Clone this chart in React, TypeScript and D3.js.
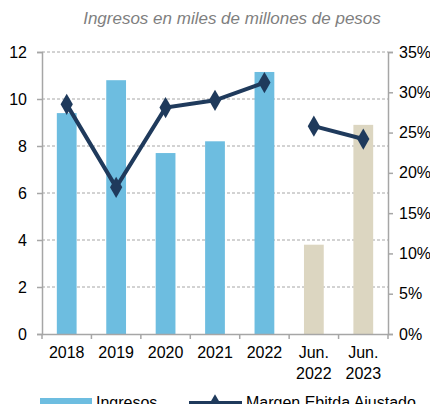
import * as d3 from "d3";
import { useRef, useEffect } from "react";

const categories = ["2018", "2019", "2020", "2021", "2022", "Jun.|2022", "Jun.|2023"];
const ingresos = [9.4, 10.8, 7.7, 8.2, 11.15, 3.8, 8.9];
const margen = [0.285, 0.182, 0.281, 0.29, 0.312, 0.258, 0.242];
const leftTicks = [0, 2, 4, 6, 8, 10, 12];
const rightTicks = [0, 0.05, 0.1, 0.15, 0.2, 0.25, 0.3, 0.35];

const width = 438;
const height = 412;
const margin = { top: 52, right: 50, bottom: 78, left: 42 };

function Chart() {
  const ref = useRef<SVGSVGElement>(null);

  useEffect(() => {
    const svg = d3.select(ref.current);
    svg.selectAll("*").remove();
    const font = "'Liberation Sans', Arial, sans-serif";

    const x = d3
      .scaleBand()
      .domain(categories)
      .range([margin.left, width - margin.right])
      .paddingInner(0.6)
      .paddingOuter(0.3);
    const band = d3.scaleBand().domain(categories).range([margin.left, width - margin.right]);
    const y = d3.scaleLinear().domain([0, 12]).range([height - margin.bottom, margin.top]);
    const y2 = d3.scaleLinear().domain([0, 0.35]).range([height - margin.bottom, margin.top]);

    // title
    svg
      .append("text")
      .attr("x", 232)
      .attr("y", 24)
      .attr("text-anchor", "middle")
      .attr("font-family", font)
      .attr("font-style", "italic")
      .attr("font-size", 17)
      .attr("fill", "#7f7f7f")
      .text("Ingresos en miles de millones de pesos");

    // gridlines
    svg
      .append("g")
      .selectAll("line")
      .data(leftTicks.filter((d) => d > 0))
      .join("line")
      .attr("x1", margin.left)
      .attr("x2", width - margin.right)
      .attr("y1", (d) => y(d))
      .attr("y2", (d) => y(d))
      .attr("stroke", "#a6a6a6")
      .attr("stroke-dasharray", "3,2");

    // bars
    svg
      .append("g")
      .selectAll("rect")
      .data(ingresos)
      .join("rect")
      .attr("x", (d, i) => x(categories[i])!)
      .attr("width", x.bandwidth())
      .attr("y", (d) => y(d))
      .attr("height", (d) => y(0) - y(d))
      .attr("fill", (d, i) => (i < 5 ? "#6dbde0" : "#dcd6c1"));

    // axes
    const left = svg
      .append("g")
      .attr("transform", `translate(${margin.left},0)`)
      .call(d3.axisLeft(y).tickValues(leftTicks).tickSize(5).tickPadding(10));
    const right = svg
      .append("g")
      .attr("transform", `translate(${width - margin.right},0)`)
      .call(d3.axisRight(y2).tickValues(rightTicks).tickSize(5).tickPadding(6).tickFormat(d3.format(".0%")));
    const bottom = svg
      .append("g")
      .attr("transform", `translate(0,${height - margin.bottom})`)
      .call(d3.axisBottom(band).tickSize(0).tickFormat(() => ""));

    [left, right, bottom].forEach((g) => {
      g.select(".domain").attr("stroke", "#a6a6a6").attr("stroke-width", 1.5);
      g.selectAll(".tick line").attr("stroke", "#a6a6a6").attr("stroke-width", 1.5);
      g.selectAll("text").attr("font-family", font).attr("font-size", 16).attr("fill", "#000");
    });

    // bottom ticks at band edges
    const edges = categories.map((c) => band(c)!).concat([band.range()[1]]);
    svg
      .append("g")
      .selectAll("line")
      .data(edges)
      .join("line")
      .attr("x1", (d) => d)
      .attr("x2", (d) => d)
      .attr("y1", y(0))
      .attr("y2", y(0) + 5)
      .attr("stroke", "#a6a6a6")
      .attr("stroke-width", 1.5);

    // category labels
    const labels = svg
      .append("g")
      .selectAll("text")
      .data(categories)
      .join("text")
      .attr("x", (d) => band(d)! + band.bandwidth() / 2)
      .attr("y", y(0) + 24)
      .attr("text-anchor", "middle")
      .attr("font-family", font)
      .attr("font-size", 16);
    labels.each(function (d) {
      const parts = d.split("|");
      d3.select(this)
        .selectAll("tspan")
        .data(parts)
        .join("tspan")
        .attr("x", band(d)! + band.bandwidth() / 2)
        .attr("dy", (p, j) => (j === 0 ? 0 : 21))
        .text((p) => p);
    });

    // line (broken between annual and june)
    const cx = (i: number) => band(categories[i])! + band.bandwidth() / 2;
    const segments = [
      [0, 1, 2, 3, 4],
      [5, 6],
    ];
    segments.forEach((seg) => {
      svg
        .append("path")
        .datum(seg)
        .attr(
          "d",
          d3
            .line<number>()
            .x((i) => cx(i))
            .y((i) => y2(margen[i]))
        )
        .attr("fill", "none")
        .attr("stroke", "#1f3a5c")
        .attr("stroke-width", 4);
    });

    const diamond = d3.symbol().type(d3.symbolDiamond).size(130);
    svg
      .append("g")
      .selectAll("path")
      .data(margen)
      .join("path")
      .attr("transform", (d, i) => `translate(${cx(i)},${y2(d)})`)
      .attr("d", diamond)
      .attr("fill", "#1f3a5c");

    // legend
    const lg = svg.append("g").attr("font-family", font).attr("font-size", 16);
    lg.append("rect").attr("x", 40).attr("y", 398).attr("width", 52).attr("height", 11).attr("fill", "#6dbde0");
    lg.append("text").attr("x", 96).attr("y", 408).text("Ingresos");
    lg.append("line")
      .attr("x1", 189)
      .attr("x2", 242)
      .attr("y1", 403)
      .attr("y2", 403)
      .attr("stroke", "#1f3a5c")
      .attr("stroke-width", 4);
    lg.append("path").attr("transform", "translate(215,403)").attr("d", d3.symbol().type(d3.symbolDiamond).size(90)).attr("fill", "#1f3a5c");
    lg.append("text").attr("x", 246).attr("y", 408).text("Margen Ebitda Ajustado");
  }, []);

  return <svg ref={ref} width={width} height={height} style={{ display: "block" }}></svg>;
}

export default function App() {
  return (
    <div style={{ margin: -8 }}>
      <Chart />
    </div>
  );
}
